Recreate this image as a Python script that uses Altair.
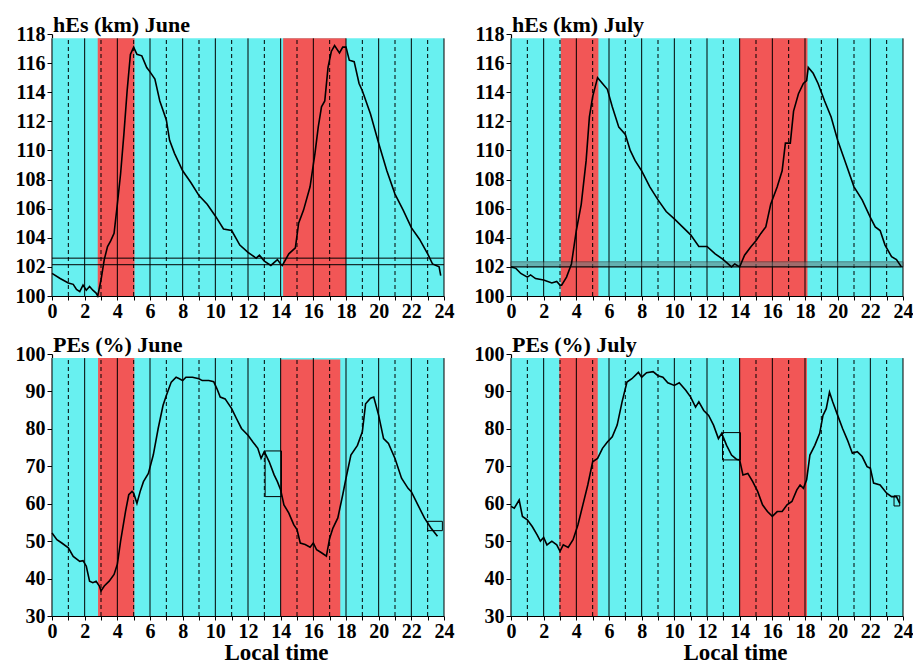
import altair as alt
import pandas as pd

# ---------------- data ----------------
hours = list(range(25))

hes_jun_t = [0,0.5,1,1.3,1.5,1.7,1.9,2.1,2.3,2.5,2.7,2.8,3.0,3.2,3.4,3.6,3.8,4.0,4.2,4.4,
             4.6,4.8,5.0,5.2,5.5,5.8,6.0,6.3,6.6,7.0,7.2,7.5,8.0,8.5,9.0,9.5,10.0,10.5,11.0,11.5,
             12.0,12.5,12.7,13.0,13.4,13.8,14.0,14.1,14.5,14.9,15.1,15.4,15.8,16.1,16.3,16.5,16.7,16.9,17.1,17.3,
             17.6,17.8,18.0,18.2,18.5,18.8,19.0,19.5,20.0,20.5,21.0,21.5,22.0,22.5,23.0,23.3,23.7,23.8]
hes_jun_v = [101.55,101.2,100.9,100.8,100.45,100.3,100.75,100.4,100.65,100.4,100.2,100.0,101.1,102.5,103.4,103.8,104.3,106.3,108.4,111.1,
             114.1,116.6,117.1,116.6,116.5,115.7,115.4,114.9,113.4,112.1,110.7,109.8,108.6,107.8,106.9,106.3,105.5,104.6,104.5,103.5,
             103.0,102.6,102.8,102.4,102.1,102.5,102.2,102.1,102.9,103.3,105.0,105.9,107.5,109.8,111.6,113.0,113.4,115.7,116.8,117.2,
             116.7,117.1,117.1,116.2,116.1,114.6,114.1,112.5,110.5,108.6,107.0,105.9,104.7,103.9,102.9,102.2,102.0,101.4]

hes_jul_t = [0,0.3,0.6,1.0,1.2,1.5,2.0,2.5,2.8,3.0,3.1,3.4,3.7,4.0,4.3,4.6,4.8,5.0,5.3,5.6,
             5.9,6.2,6.6,7.0,7.3,7.6,8.0,8.5,9.0,9.5,10.0,10.5,11.0,11.5,12.0,12.5,13.0,13.5,13.7,14.0,
             14.3,14.7,15.0,15.3,15.6,15.9,16.3,16.6,16.8,17.1,17.3,17.6,17.9,18.1,18.2,18.5,18.8,19.2,19.6,20.0,
             20.5,21.0,21.5,22.0,22.3,22.6,22.9,23.3,23.6,23.9]
hes_jul_v = [102.0,101.9,101.55,101.3,101.45,101.2,101.1,100.9,101.0,100.75,100.75,101.3,102.2,104.5,106.3,109.3,112.3,113.7,115.0,114.6,
             114.2,113.0,111.6,111.1,110.0,109.3,108.6,107.5,106.6,105.8,105.3,104.75,104.2,103.4,103.4,102.9,102.5,102.0,102.2,102.0,
             102.8,103.4,103.8,104.3,104.75,106.3,107.5,108.6,110.5,110.5,112.7,113.9,114.6,114.8,115.7,115.3,114.6,113.4,112.3,110.7,
             109.1,107.5,106.6,105.4,104.75,104.5,103.5,102.7,102.5,102.0]

pes_jun_t = [0,0.3,0.6,1.0,1.3,1.7,1.9,2.1,2.3,2.5,2.7,2.9,3.0,3.2,3.5,3.8,4.0,4.2,4.5,4.7,
             4.9,5.0,5.2,5.4,5.6,5.9,6.2,6.5,6.8,7.0,7.3,7.6,7.8,8.0,8.2,8.6,9.0,9.2,9.6,9.9,
             10.1,10.3,10.6,11.0,11.3,11.6,12.0,12.3,12.6,12.8,13.0,13.3,13.6,13.8,14.0,14.2,14.5,14.8,15.0,15.2,
             15.5,15.8,16.0,16.2,16.5,16.8,17.0,17.2,17.5,17.8,18.0,18.3,18.7,19.0,19.2,19.5,19.7,20.0,20.3,20.6,
             21.0,21.4,21.8,22.0,22.4,22.8,23.2,23.6]
pes_jun_v = [52.2,50.4,49.5,48.2,45.9,44.6,44.8,43.3,39.3,38.9,39.3,38.0,36.7,38.0,39.3,41.1,43.8,50.0,57.9,62.4,
             63.3,62.8,60.1,63.3,65.9,68.1,73.0,80.1,86.3,88.9,92.5,93.8,93.4,92.9,93.8,93.8,93.4,92.9,92.9,92.6,
             90.7,88.5,88.0,85.4,82.7,80.1,78.3,76.5,74.8,72.1,73.9,71.2,67.7,65.9,63.7,59.7,57.5,54.4,53.1,49.5,
             49.1,48.4,49.5,47.7,46.9,46.0,50.8,53.5,56.2,62.4,66.8,73.0,75.6,79.2,86.7,88.2,88.5,83.6,77.4,76.1,
             72.1,66.8,64.1,63.2,59.7,56.2,53.5,51.3]

pes_jul_t = [0,0.2,0.5,0.7,1.0,1.3,1.6,1.8,2.0,2.2,2.5,2.8,3.0,3.2,3.5,3.8,4.1,4.4,4.7,5.0,
             5.3,5.6,5.9,6.2,6.5,6.8,7.1,7.4,7.8,8.0,8.3,8.7,9.0,9.3,9.6,10.0,10.3,10.7,11.0,11.3,
             11.5,11.8,12.1,12.4,12.7,12.9,13.2,13.5,13.8,14.0,14.2,14.5,14.8,15.1,15.4,15.7,16.0,16.3,16.6,16.9,
             17.2,17.5,17.7,17.9,18.1,18.3,18.6,18.9,19.1,19.3,19.5,19.7,20.0,20.3,20.6,20.9,21.2,21.5,21.8,22.0,
             22.2,22.6,23.0,23.3,23.6,23.8]
pes_jul_v = [59.3,58.8,61.0,56.6,55.7,53.9,51.7,50.0,51.0,49.0,50.0,49.0,47.3,49.0,48.3,50.4,54.4,59.7,65.0,71.2,
             72.1,74.8,76.5,77.9,81.0,87.2,92.5,93.4,95.1,93.8,95.0,95.3,94.2,93.8,92.3,91.6,92.3,90.3,88.5,85.8,
             87.2,84.9,83.6,81.0,77.4,78.8,75.6,73.0,71.9,71.7,67.7,68.1,65.9,63.3,59.7,57.9,56.6,57.9,57.9,59.7,
             60.6,63.7,65.0,64.1,66.4,73.0,75.6,78.8,83.6,85.4,89.8,87.2,83.6,80.1,77.0,73.5,73.9,72.6,69.9,69.5,
             65.5,65.0,62.8,61.9,61.9,60.1]

# shaded intervals (start, end, top) : cyan background + red bands
bands_hes_jun = [(2.8, 5.05, 117.7), (14.15, 18.0, 117.7)]
bands_hes_jul = [(3.05, 5.35, 117.7), (14.0, 18.15, 117.7)]
bands_pes_jun = [(2.82, 5.04, 98.9), (14.0, 17.65, 98.5)]
bands_pes_jul = [(2.96, 5.31, 98.9), (13.96, 18.12, 98.9)]

# horizontal reference lines (top panels)
hlines_jun = [102.15, 102.6]
hband_jul = (102.0, 102.35)
# boxes in bottom panels (x0, x1, y0, y1)
boxes_jun = [(13.05, 14.05, 61.9, 74.1), (23.0, 23.9, 52.8, 55.3)]
boxes_jul = [(12.95, 14.05, 71.7, 79.0), (23.45, 23.8, 59.4, 62.1)]

titles = ["hEs (km) June", "hEs (km) July", "PEs (%) June", "PEs (%) July"]

CYAN = "#68f0f0"
RED = "#f25656"
FONT = "Times New Roman"
W, H = 392, 262

for a, b in [(hes_jun_t, hes_jun_v), (hes_jul_t, hes_jul_v), (pes_jun_t, pes_jun_v), (pes_jul_t, pes_jul_v)]:
    assert len(a) == len(b)

AX = dict(labelFont=FONT, labelFontSize=20, labelFontWeight="bold", labelColor="black",
          domainColor="black", tickColor="black", domainWidth=1.2, grid=False)


def panel(t, v, bands, ymin, ymax, ytop, ystep, title, xtitle, hlines=(), hband=None, boxes=()):
    xs = alt.Scale(domain=[0, 24], nice=False, zero=False)
    ys = alt.Scale(domain=[ymin, ymax], nice=False, zero=False)
    xaxis_kw = dict(values=hours, labelExpr="datum.value % 2 == 0 ? datum.label : ''",
                    tickSize=4, labelPadding=1, labelFlush=False, **AX)
    if xtitle:
        xaxis_kw.update(title=xtitle, titleFont=FONT, titleFontSize=23, titleFontWeight="bold",
                        titleColor="black", titleX=224, titlePadding=0)
    else:
        xaxis_kw.update(title=None)
    xaxis = alt.Axis(**xaxis_kw)
    yaxis = alt.Axis(values=list(range(ymin, ymax + 1, ystep)), tickSize=5,
                     labelPadding=2, title=None, **AX)

    def X(f):
        return alt.X(f, type="quantitative", scale=xs, axis=xaxis)

    def Y(f):
        return alt.Y(f, type="quantitative", scale=ys, axis=yaxis)

    rect_rows = [dict(x0=0, x1=24, y0=ymin, y1=ytop, c=CYAN)]
    rect_rows += [dict(x0=a, x1=b, y0=ymin, y1=top, c=RED) for a, b, top in bands]
    rects = alt.Chart(pd.DataFrame(rect_rows)).mark_rect().encode(
        x=X("x0"), x2="x1", y=Y("y0"), y2="y1", color=alt.Color("c:N", scale=None))

    rule_df = pd.DataFrame(dict(h=hours, y0=[ymin] * 25, y1=[ytop] * 25,
                                k=["solid" if h % 2 == 0 else "dash" for h in hours]))
    rules = alt.Chart(rule_df).mark_rule(color="black", strokeWidth=1).encode(
        x=X("h"), y=Y("y0"), y2="y1",
        strokeDash=alt.StrokeDash("k:N", scale=alt.Scale(domain=["solid", "dash"], range=[[1, 0], [4, 3]]),
                                  legend=None))
    layers = [rects, rules]

    if hband is not None:
        hb = alt.Chart(pd.DataFrame([dict(x0=0, x1=24, y0=hband[0], y1=hband[1])])).mark_rect(
            color="#5f7f7f", opacity=0.55, stroke="#333333", strokeWidth=1).encode(
            x=X("x0"), x2="x1", y=Y("y0"), y2="y1")
        layers.append(hb)
        hlines = [hband[0]]
    if hlines:
        hl = alt.Chart(pd.DataFrame(dict(y=list(hlines), x0=[0] * len(hlines), x1=[24] * len(hlines)))).mark_rule(
            color="black", strokeWidth=1).encode(x=X("x0"), x2="x1", y=Y("y"))
        layers.append(hl)
    if boxes:
        bx = alt.Chart(pd.DataFrame([dict(x0=a, x1=b, y0=c, y1=d) for a, b, c, d in boxes])).mark_rect(
            fillOpacity=0, stroke="black", strokeWidth=1).encode(x=X("x0"), x2="x1", y=Y("y0"), y2="y1")
        layers.append(bx)

    line = alt.Chart(pd.DataFrame(dict(t=t, v=v))).mark_line(color="black", strokeWidth=1.6).encode(
        x=X("t"), y=Y("v"))
    layers.append(line)

    ttl = alt.Chart(pd.DataFrame(dict(s=[title]))).mark_text(
        font=FONT, fontSize=22, fontWeight="bold", color="black", align="left", baseline="alphabetic"
    ).encode(text="s:N", x=alt.value(1), y=alt.value(-2))
    layers.append(ttl)

    return alt.layer(*layers).properties(width=W, height=H)


p1 = panel(hes_jun_t, hes_jun_v, bands_hes_jun, 100, 118, 117.7, 2, titles[0], None, hlines=hlines_jun)
p2 = panel(hes_jul_t, hes_jul_v, bands_hes_jul, 100, 118, 117.7, 2, titles[1], None, hband=hband_jul)
p3 = panel(pes_jun_t, pes_jun_v, bands_pes_jun, 30, 100, 98.9, 10, titles[2], "Local time", boxes=boxes_jun)
p4 = panel(pes_jul_t, pes_jul_v, bands_pes_jul, 30, 100, 98.9, 10, titles[3], "Local time", boxes=boxes_jul)

chart = alt.vconcat(
    alt.hconcat(p1, p2, spacing=20),
    alt.hconcat(p3, p4, spacing=20),
    spacing=13,
).properties(
    padding={"left": 7, "top": 6, "right": 0, "bottom": 0},
    background="white",
).configure_view(stroke=None)

chart.save("out.html", embed_options={"renderer": "svg", "actions": False})
